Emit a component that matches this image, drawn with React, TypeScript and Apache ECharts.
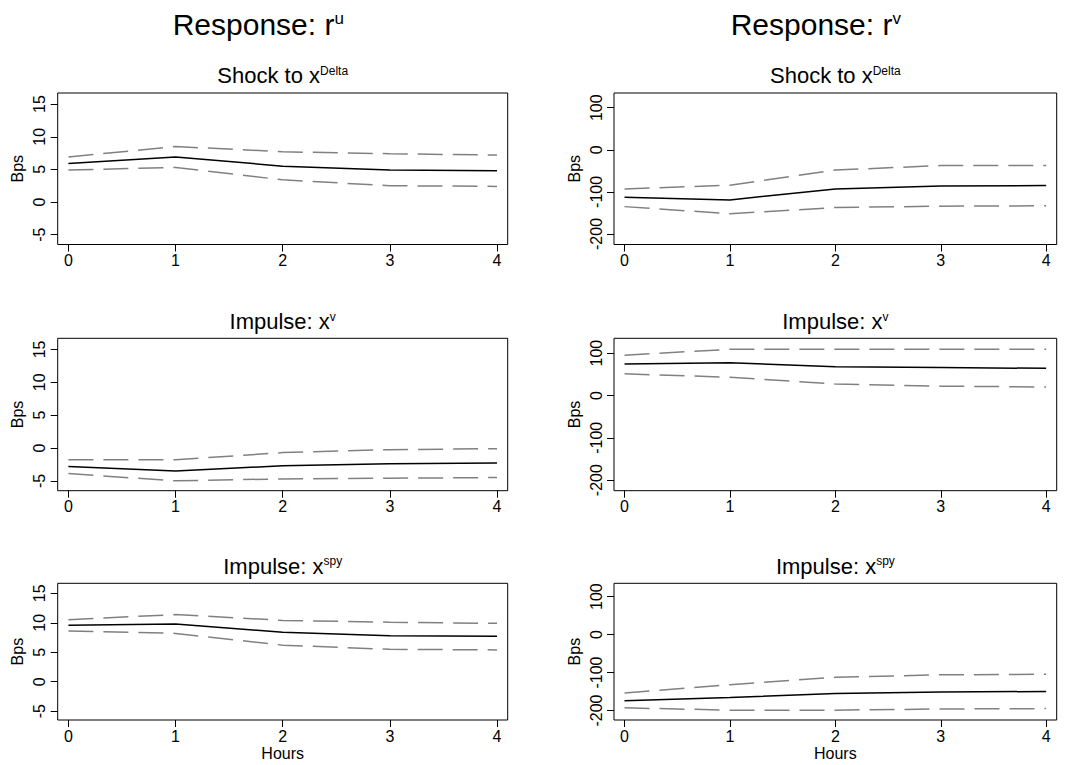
import React, { useEffect, useRef } from "react";
import * as echarts from "echarts";

const FONT = "'Liberation Sans', Arial, Helvetica, sans-serif";

// horizon (hours)
const hours = [0, 1, 2, 3, 4];

// Response r^u (left column), Bps
const ruDeltaMid = [5.9, 6.9, 5.5, 4.9, 4.8];
const ruDeltaUp = [6.9, 8.5, 7.7, 7.4, 7.2];
const ruDeltaLo = [4.9, 5.3, 3.4, 2.5, 2.4];

const ruVMid = [-2.8, -3.5, -2.7, -2.4, -2.3];
const ruVUp = [-1.8, -1.8, -0.7, -0.25, -0.1];
const ruVLo = [-3.9, -5.0, -4.7, -4.6, -4.5];

const ruSpyMid = [9.6, 9.8, 8.4, 7.8, 7.7];
const ruSpyUp = [10.5, 11.4, 10.4, 10.1, 9.9];
const ruSpyLo = [8.6, 8.2, 6.2, 5.5, 5.4];

// Response r^v (right column), Bps
const rvDeltaMid = [-113, -119, -93, -86, -85];
const rvDeltaUp = [-93, -84, -48, -37.5, -37];
const rvDeltaLo = [-135, -152, -137, -134, -133];

const rvVMid = [74, 77, 68, 66, 64];
const rvVUp = [95, 109, 109, 109, 109];
const rvVLo = [51, 43, 27, 22, 20];

const rvSpyMid = [-174, -166, -155, -151, -150];
const rvSpyUp = [-154, -132, -112.5, -106, -104.5];
const rvSpyLo = [-193, -199, -199, -196, -195];

// tick labels
const ruTicks = [-5, 0, 5, 10, 15];
const rvTicks = [-200, -100, 0, 100];

const mainTitles = [
  { main: "Response: r", sup: "u" },
  { main: "Response: r", sup: "v" },
];
const rowTitles = [
  { main: "Shock to x", sup: "Delta" },
  { main: "Impulse: x", sup: "v" },
  { main: "Impulse: x", sup: "spy" },
];

type Panel = {
  left: number;
  top: number;
  width: number;
  height: number;
  yMin: number;
  yMax: number;
  ticks: number[];
  mid: number[];
  up: number[];
  lo: number[];
  row: number;
  showX: boolean;
};

const colLeft = [57.7, 614];
const colWidth = [450, 442.7];
const rowTop = [93, 338.3, 583.3];
const rowHeight = [151.5, 152.4, 136.7];
const titleTop = [64.5, 310.5, 555.2];

const ruRange = [-6.5, 16.7];
const rvRange = [-225, 135];

const leftData = [
  [ruDeltaMid, ruDeltaUp, ruDeltaLo],
  [ruVMid, ruVUp, ruVLo],
  [ruSpyMid, ruSpyUp, ruSpyLo],
];
const rightData = [
  [rvDeltaMid, rvDeltaUp, rvDeltaLo],
  [rvVMid, rvVUp, rvVLo],
  [rvSpyMid, rvSpyUp, rvSpyLo],
];

function buildPanels(): Panel[] {
  const panels: Panel[] = [];
  for (let r = 0; r < 3; r++) {
    for (let c = 0; c < 2; c++) {
      const d = c === 0 ? leftData[r] : rightData[r];
      const range = c === 0 ? ruRange : rvRange;
      panels.push({
        left: colLeft[c],
        top: rowTop[r],
        width: colWidth[c],
        height: rowHeight[r],
        yMin: range[0],
        yMax: range[1],
        ticks: c === 0 ? ruTicks : rvTicks,
        mid: d[0],
        up: d[1],
        lo: d[2],
        row: r,
        showX: r === 2,
      });
    }
  }
  return panels;
}

function buildOption() {
  const panels = buildPanels();
  const grid: any[] = [];
  const xAxis: any[] = [];
  const yAxis: any[] = [];
  const series: any[] = [];
  const graphic: any[] = [];

  const labelStyle = { color: "#000", fontFamily: FONT, fontSize: 16 };

  panels.forEach((p, i) => {
    grid.push({
      left: p.left,
      top: p.top,
      width: p.width,
      height: p.height,
      show: true,
      borderColor: "#000",
      borderWidth: 1,
      backgroundColor: "transparent",
      containLabel: false,
      outerBoundsMode: "none",
    });
    xAxis.push({
      type: "value",
      gridIndex: i,
      min: -0.1,
      max: 4.1,
      axisLine: { show: false, onZero: false },
      splitLine: { show: false },
      axisTick: {
        show: true,
        customValues: hours,
        length: 7,
        lineStyle: { color: "#000", width: 1 },
      },
      axisLabel: { customValues: hours, margin: 8, ...labelStyle },
      name: p.showX ? "Hours" : "",
      nameLocation: "middle",
      nameGap: 25,
      nameTextStyle: labelStyle,
    });
    yAxis.push({
      type: "value",
      gridIndex: i,
      min: p.yMin,
      max: p.yMax,
      axisLine: { show: false, onZero: false },
      splitLine: { show: false },
      axisTick: {
        show: true,
        customValues: p.ticks,
        length: 7,
        lineStyle: { color: "#000", width: 1 },
      },
      axisLabel: { customValues: p.ticks, rotate: 90, margin: 10, ...labelStyle },
      name: "Bps",
      nameLocation: "middle",
      nameGap: 32,
      nameTextStyle: labelStyle,
    });
    const mk = (arr: number[]) => hours.map((h, j) => [h, arr[j]]);
    series.push({
      type: "line",
      xAxisIndex: i,
      yAxisIndex: i,
      data: mk(p.up),
      symbol: "none",
      silent: true,
      lineStyle: { color: "#808080", width: 1.5, type: [25, 10] },
    });
    series.push({
      type: "line",
      xAxisIndex: i,
      yAxisIndex: i,
      data: mk(p.lo),
      symbol: "none",
      silent: true,
      lineStyle: { color: "#808080", width: 1.5, type: [25, 10] },
    });
    series.push({
      type: "line",
      xAxisIndex: i,
      yAxisIndex: i,
      data: mk(p.mid),
      symbol: "none",
      silent: true,
      lineStyle: { color: "#000", width: 1.5, type: "solid" },
    });

    const t = rowTitles[p.row];
    graphic.push({
      type: "text",
      x: p.left + p.width / 2,
      y: titleTop[p.row],
      silent: true,
      style: {
        text: `{m|${t.main}}{s|${t.sup}}`,
        align: "center",
        verticalAlign: "top",
        rich: {
          m: { fontSize: 22, fontFamily: FONT, fill: "#000", color: "#000" },
          s: { fontSize: 12, fontFamily: FONT, fill: "#000", color: "#000", verticalAlign: "top" },
        },
      },
    });
  });

  const mainX = [172.7, 730.7];
  mainTitles.forEach((t, c) => {
    graphic.push({
      type: "text",
      x: mainX[c],
      y: 9.6,
      silent: true,
      style: {
        text: `{m|${t.main}}{s|${t.sup}}`,
        align: "left",
        verticalAlign: "top",
        rich: {
          m: { fontSize: 30, fontFamily: FONT, fill: "#000", color: "#000" },
          s: { fontSize: 17, fontFamily: FONT, fill: "#000", color: "#000", verticalAlign: "top" },
        },
      },
    });
  });

  return {
    animation: false,
    backgroundColor: "#fff",
    grid,
    xAxis,
    yAxis,
    series,
    graphic,
  };
}

export default function App() {
  const ref = useRef<HTMLDivElement>(null);
  useEffect(() => {
    if (!ref.current) return;
    const chart = echarts.init(ref.current, undefined, { renderer: "svg" });
    chart.setOption(buildOption() as any);
    return () => chart.dispose();
  }, []);
  return (
    <div
      ref={ref}
      style={{ position: "fixed", left: 0, top: 0, width: 1071, height: 765, background: "#fff" }}
    />
  );
}
